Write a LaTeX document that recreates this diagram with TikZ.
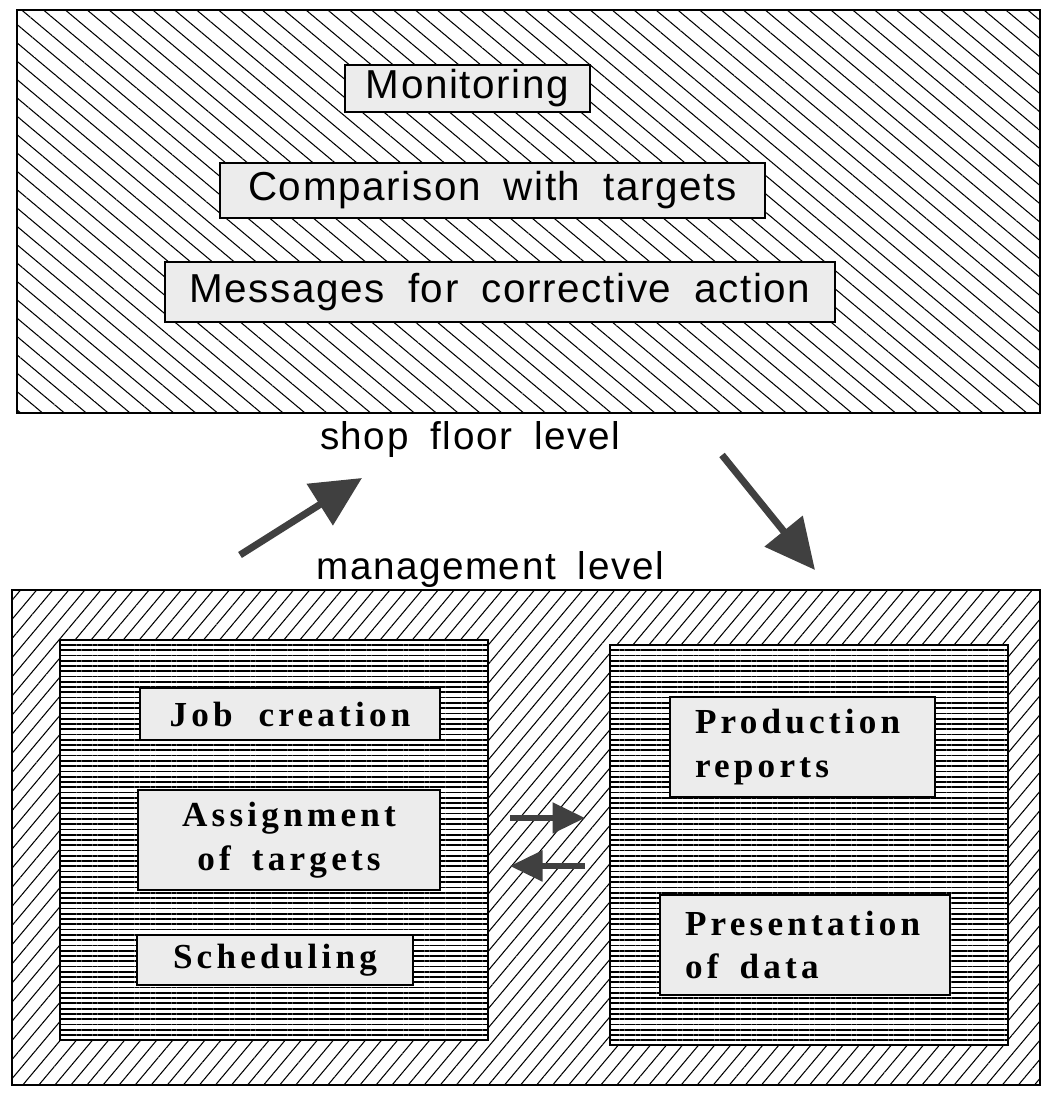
\documentclass[tikz,border=0pt]{standalone}
\usepackage{fontspec}
\setmainfont{Liberation Serif}
\newfontfamily\shopfont[LetterSpace=4,WordSpace=1.8]{Liberation Sans}
\newfontfamily\mgmtfont[LetterSpace=12,WordSpace=2]{Liberation Serif}
\usepackage{tikz}
\usetikzlibrary{patterns.meta,arrows.meta}

\begin{document}
\begin{tikzpicture}[
  shoppanel/.style={thick, pattern={Lines[angle=-40,distance=8pt,line width=0.6pt]}},
  mgmtpanel/.style={thick, pattern={Lines[angle=50,distance=7pt,line width=0.6pt]}},
  taskpanel/.style={thick, preaction={fill=white}, pattern={Lines[angle=0,distance=3pt,line width=1pt]}},
  shoplabel/.style={draw, thick, fill=gray!15, inner sep=0pt, font=\shopfont\fontsize{23}{27}\selectfont},
  mgmtlabel/.style={draw, thick, fill=gray!15, inner sep=0pt, font=\mgmtfont\bfseries\fontsize{20}{25}\selectfont},
  levelarrow/.style={line width=4pt, black!75, -{Triangle[length=1cm,width=0.95cm]}},
  linkarrow/.style={line width=3pt, black!75, -{Triangle[length=0.65cm,width=0.6cm]}}
]
  \useasboundingbox (0,0) rectangle (20.94,21.86);

  % shop floor level
  \draw[shoppanel] (0.34,13.6) rectangle (20.8,21.66);
  \node[shoplabel, minimum width=4.9cm, minimum height=0.94cm] (monitor) at (9.35,20.09) {Monitoring};
  \node[shoplabel, minimum width=10.9cm, minimum height=1.1cm] (compare) at (9.85,18.05) {Comparison with targets};
  \node[shoplabel, minimum width=13.4cm, minimum height=1.2cm] (messages) at (10.0,16.02) {Messages for corrective action};

  \node[font=\shopfont\fontsize{22}{26}\selectfont] (shoplevel) at (9.4,13.06) {shop floor level};
  \node[font=\shopfont\fontsize{22}{26}\selectfont] (mgmtlevel) at (9.8,10.46) {management level};

  \coordinate (upstart) at (4.8,10.76);
  \coordinate (upend) at (7.24,12.3);
  \coordinate (downstart) at (14.44,12.76);
  \coordinate (downend) at (16.3,10.46);
  \draw[levelarrow] (upstart) -- (upend);
  \draw[levelarrow] (downstart) -- (downend);

  % management level
  \draw[mgmtpanel] (0.24,0.16) rectangle (20.8,10.06);
  \draw[taskpanel] (1.2,1.06) rectangle (9.76,9.06);
  \draw[taskpanel] (12.2,0.96) rectangle (20.16,8.96);

  \node[mgmtlabel, minimum width=6cm, minimum height=1.04cm] (jobs) at (5.8,7.58) {Job creation};
  \node[mgmtlabel, minimum width=6.04cm, minimum height=2cm, text width=6.04cm, align=center] (assign) at (5.78,5.06) {Assignment\\of\hspace{0.6em}targets};
  \node[mgmtlabel, minimum width=5.52cm, minimum height=1cm] (sched) at (5.5,2.66) {Scheduling};

  \node[mgmtlabel, minimum height=2cm, inner xsep=0.5cm, text width=4.3cm, align=left] (reports) at (16.05,6.92) {Production\\reports};
  \node[mgmtlabel, minimum height=2cm, inner xsep=0.5cm, text width=4.8cm, align=left] (present) at (16.1,2.96) {Presentation\\of\hspace{0.6em}data};

  \coordinate (toright) at (10.2,5.5);
  \coordinate (atright) at (11.7,5.5);
  \coordinate (toleft) at (11.7,4.54);
  \coordinate (atleft) at (10.2,4.54);
  \draw[linkarrow] (toright) -- (atright);
  \draw[linkarrow] (toleft) -- (atleft);
\end{tikzpicture}
\end{document}
